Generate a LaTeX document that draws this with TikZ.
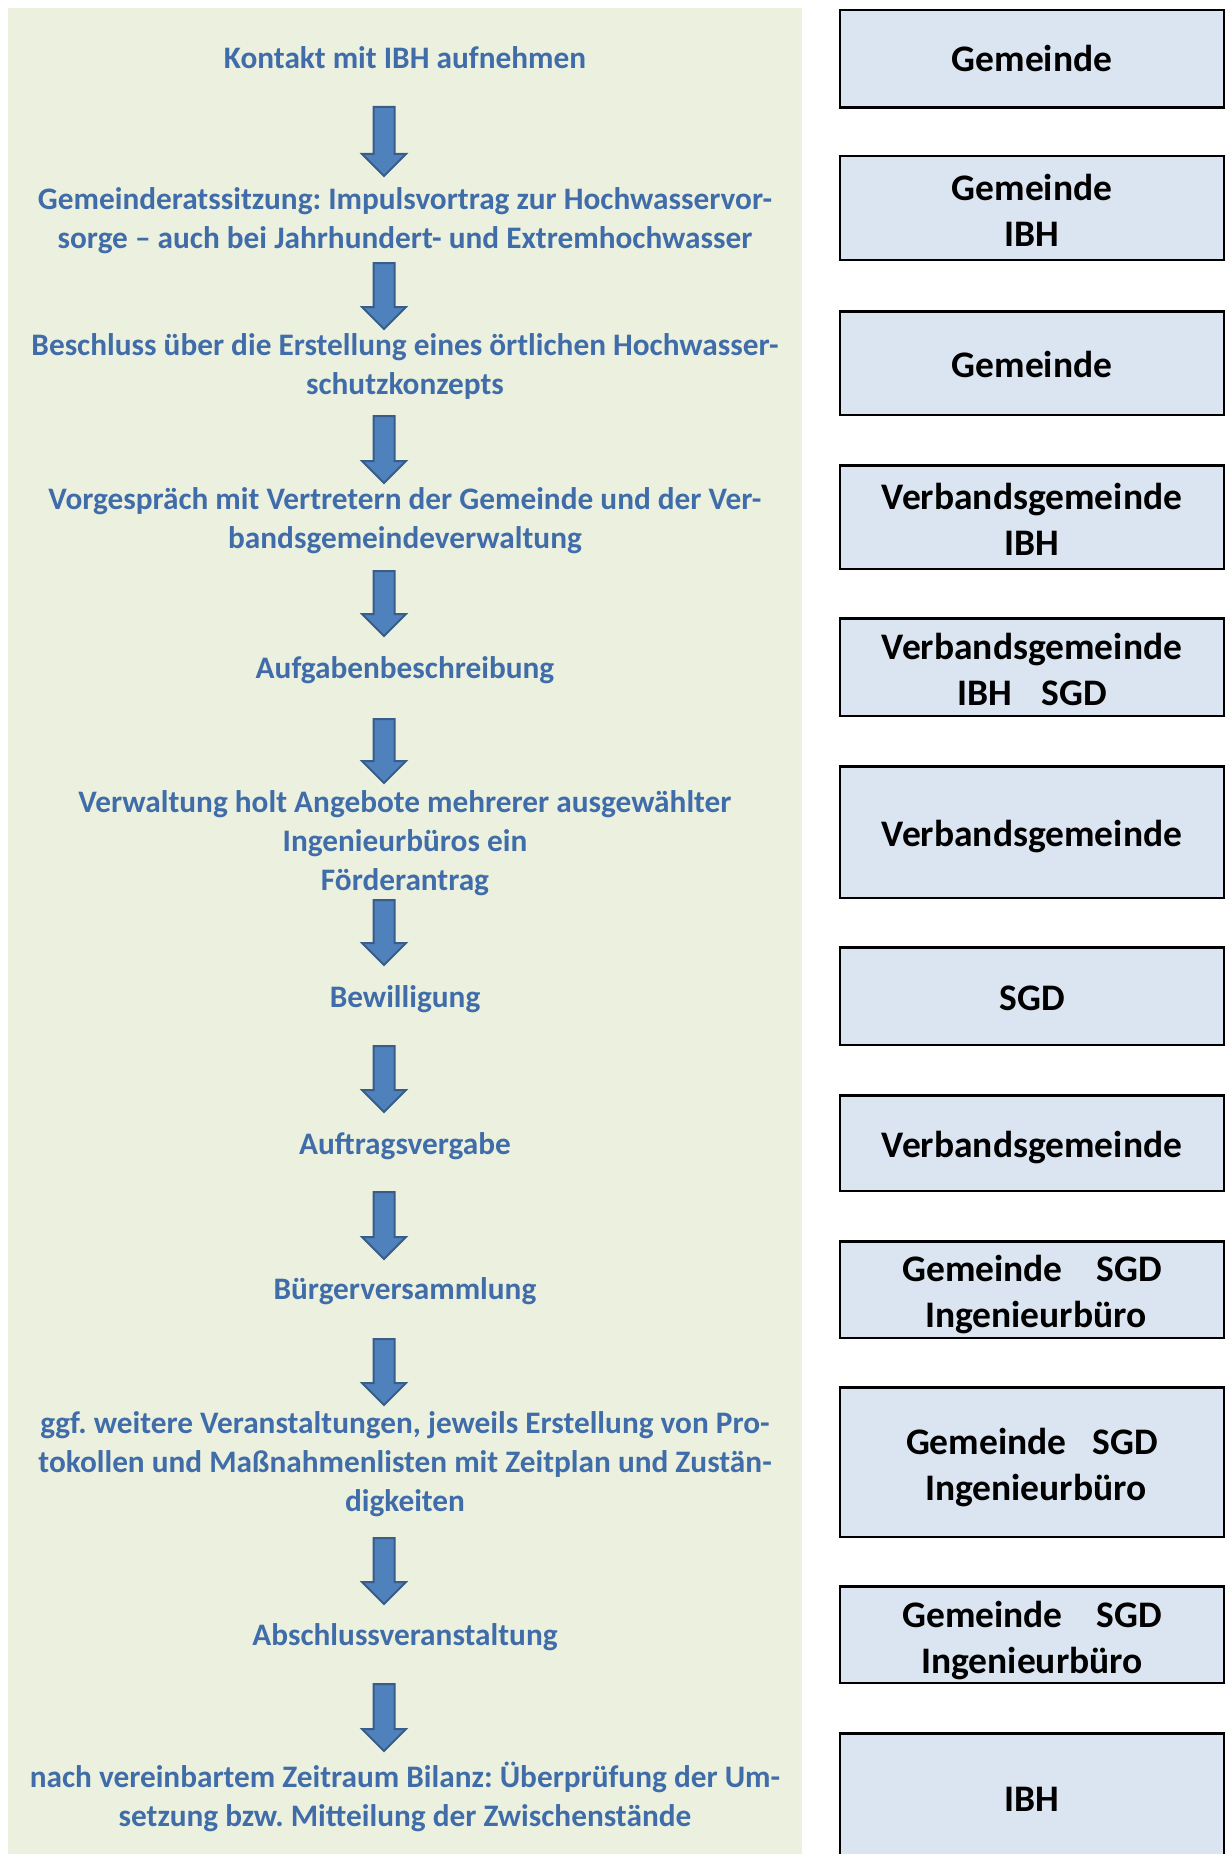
\documentclass[tikz,border=0pt]{standalone}
\usepackage{fontspec}
\setmainfont{Carlito}
\definecolor{bggreen}{HTML}{EBF1DE}
\definecolor{boxblue}{HTML}{DBE5F1}
\definecolor{txtblue}{HTML}{406DA9}
\definecolor{arrfill}{HTML}{4F81BD}
\definecolor{arrline}{HTML}{385D8A}
\newcommand{\blockarrow}[3]{%
  \filldraw[blockarr] (#1-10.5,#2) -- (#1+10.5,#2) -- (#1+10.5,#3-22) -- (#1+22,#3-22) -- (#1,#3) -- (#1-22,#3-22) -- (#1-10.5,#3-22) -- cycle;}
\begin{document}
\frenchspacing
\begin{tikzpicture}[x=1pt,y=-1pt,
  steptext/.style={font=\fontsize{31.3}{39}\selectfont\bfseries, text=txtblue, align=center, inner sep=0pt, anchor=base},
  rolebox/.style={draw=black, line width=2.5pt, fill=boxblue, minimum width=384pt, inner sep=0pt},
  roletext/.style={font=\fontsize{37.5}{46}\selectfont\bfseries, text=black, align=center, inner sep=0pt, anchor=base},
  blockarr/.style={fill=arrfill, draw=arrline, line width=2pt, line join=miter}]
\clip (0,0) rectangle (1229,1854);
\useasboundingbox (0,0) rectangle (1229,1854);
\fill[white] (0,0) rectangle (1229,1854);
\fill[bggreen] (8,8) rectangle (802,1860);

% left steps (anchor = baseline of last line)
\node[steptext] (s1) at (405,69) {Kontakt mit IBH aufnehmen};
\node[steptext] (s2) at (405,248) {Gemeinderatssitzung: Impulsvortrag zur Hochwasservor-\\sorge – auch bei Jahrhundert- und Extremhochwasser};
\node[steptext] (s3) at (405,394) {Beschluss über die Erstellung eines örtlichen Hochwasser-\\schutzkonzepts};
\node[steptext] (s4) at (405,548) {Vorgespräch mit Vertretern der Gemeinde und der Ver-\\bandsgemeindeverwaltung};
\node[steptext] (s5) at (405,678) {Aufgabenbeschreibung};
\node[steptext] (s6) at (405,890) {Verwaltung holt Angebote mehrerer ausgewählter\\Ingenieurbüros ein\\Förderantrag};
\node[steptext] (s7) at (405,1007) {Bewilligung};
\node[steptext] (s8) at (405,1154) {Auftragsvergabe};
\node[steptext] (s9) at (405,1299) {Bürgerversammlung};
\node[steptext] (s10) at (405,1511) {ggf. weitere Veranstaltungen, jeweils Erstellung von Pro-\\tokollen und Maßnahmenlisten mit Zeitplan und Zustän-\\digkeiten};
\node[steptext] (s11) at (405,1645) {Abschlussveranstaltung};
\node[steptext] (s12) at (405,1826) {nach vereinbartem Zeitraum Bilanz: Überprüfung der Um-\\setzung bzw. Mitteilung der Zwischenstände};

% arrows
\blockarrow{384}{107}{176}
\blockarrow{384}{263}{329}
\blockarrow{384}{416}{483}
\blockarrow{384}{571}{636}
\blockarrow{384}{719}{783}
\blockarrow{384}{900}{965}
\blockarrow{384}{1046}{1112}
\blockarrow{384}{1192}{1259}
\blockarrow{384}{1339}{1405}
\blockarrow{384}{1538}{1604}
\blockarrow{384}{1684}{1751}

% right boxes
\node[rolebox, minimum height=97.5pt] (b1) at (1032,59) {};
\node[rolebox, minimum height=103.5pt] (b2) at (1032,208) {};
\node[rolebox, minimum height=103.5pt] (b3) at (1032,363) {};
\node[rolebox, minimum height=103.5pt] (b4) at (1032,517) {};
\node[rolebox, minimum height=97.5pt] (b5) at (1032,667) {};
\node[rolebox, minimum height=131.5pt] (b6) at (1032,832) {};
\node[rolebox, minimum height=97.5pt] (b7) at (1032,996) {};
\node[rolebox, minimum height=95.5pt] (b8) at (1032,1143) {};
\node[rolebox, minimum height=96.5pt] (b9) at (1032,1289.5) {};
\node[rolebox, minimum height=149.5pt] (b10) at (1032,1462) {};
\node[rolebox, minimum height=96.5pt] (b11) at (1032,1634.5) {};
\node[rolebox, minimum height=165.5pt] (b12) at (1032,1816) {};

\node[roletext] (r1) at (1032,72) {Gemeinde};
\node[roletext] (r2) at (1032,246) {Gemeinde\\IBH};
\node[roletext] (r3) at (1032,377) {Gemeinde};
\node[roletext] (r4) at (1032,555) {Verbandsgemeinde\\IBH};
\node[roletext] (r5) at (1032,705) {Verbandsgemeinde\\IBH\hspace{0.8em}SGD};
\node[roletext] (r6) at (1032,846) {Verbandsgemeinde};
\node[roletext] (r7) at (1032,1010) {SGD};
\node[roletext] (r8) at (1032,1157) {Verbandsgemeinde};
\node[roletext] (r9) at (1032,1327) {Gemeinde\hspace{0.9em}SGD\\\hspace{0.2em}Ingenieurbüro};
\node[roletext] (r10) at (1032,1500) {Gemeinde\hspace{0.7em}SGD\\\hspace{0.2em}Ingenieurbüro};
\node[roletext] (r11) at (1032,1673) {Gemeinde\hspace{0.9em}SGD\\Ingenieurbüro};
\node[roletext] (r12) at (1032,1811) {IBH};
\end{tikzpicture}
\end{document}
